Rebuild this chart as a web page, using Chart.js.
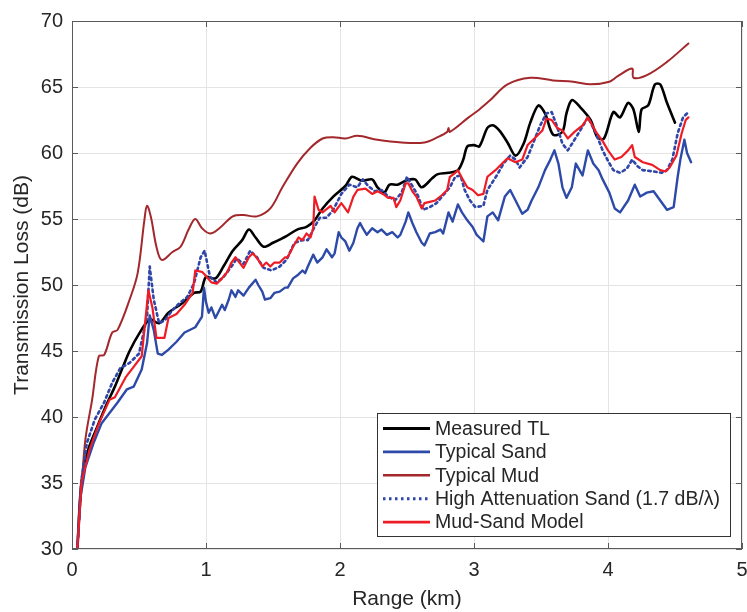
<!DOCTYPE html>
<html>
<head>
<meta charset="utf-8">
<script src="https://cdn.jsdelivr.net/npm/chart.js@4/dist/chart.umd.min.js"></script>
<style>
  html, body { margin: 0; padding: 0; background: #ffffff; }
  canvas { display: block; }
</style>
</head>
<body>
<canvas id="tl" width="747" height="612"></canvas>
<script>
// Range (km) and transmission loss (dB) for each curve
const measuredRange = [0.04,0.07,0.12,0.19,0.26,0.32,0.38,0.43,0.50,0.58,0.65,0.72,0.82,0.91,0.96,1.00,1.07,1.13,1.20,1.27,1.32,1.37,1.43,1.50,1.60,1.68,1.75,1.81,1.87,1.95,2.04,2.09,2.16,2.24,2.28,2.33,2.37,2.43,2.49,2.56,2.61,2.69,2.73,2.81,2.88,2.92,2.95,3.00,3.04,3.10,3.14,3.19,3.25,3.31,3.37,3.42,3.48,3.53,3.59,3.66,3.69,3.73,3.79,3.87,3.92,3.97,4.04,4.09,4.15,4.19,4.23,4.25,4.30,4.35,4.39,4.44,4.50];
const measuredTL    = [30,35,37.5,39.3,41.0,42.3,43.8,45.0,46.3,47.4,47.1,47.9,48.6,49.4,49.5,50.6,50.5,51.4,52.6,53.4,54.2,53.6,52.9,53.2,53.7,54.2,54.4,54.9,55.8,56.7,57.5,58.2,57.9,58.0,57.4,57.0,57.6,57.6,57.9,58.0,57.4,58.1,58.4,58.5,58.7,59.5,60.5,60.6,60.5,61.9,62.1,61.7,60.8,59.8,60.7,62.3,63.6,63.0,61.4,61.6,63.0,64.0,63.5,62.5,61.2,61.1,63.1,62.7,63.8,63.3,61.6,63.3,63.6,65.2,65.2,63.8,62.3];

const sandRange = [0.04,0.06,0.10,0.16,0.22,0.28,0.34,0.41,0.46,0.52,0.56,0.58,0.61,0.64,0.67,0.72,0.78,0.84,0.92,0.97,
  0.985,1.00,1.02,1.04,1.07,1.09,1.12,1.14,1.17,1.19,1.22,1.24,1.28,1.32,1.37,1.39,1.42,1.44,1.48,1.51,
  1.55,1.59,1.61,1.65,1.69,1.72,1.74,1.76,1.80,1.83,1.87,1.90,1.94,1.96,1.99,2.01,2.04,2.07,2.10,2.13,
  2.15,2.17,2.20,2.24,2.28,2.31,2.35,2.39,2.43,2.45,2.49,2.51,2.54,2.57,2.61,2.63,2.67,2.71,2.75,2.77,
  2.81,2.84,2.88,2.91,2.95,2.99,3.02,3.04,3.07,3.10,3.14,3.18,3.23,3.27,3.31,3.36,3.40,3.43,3.48,3.53,
  3.57,3.60,3.63,3.66,3.69,3.73,3.76,3.81,3.85,3.89,3.93,3.96,4.01,4.05,4.09,4.15,4.20,4.24,4.29,4.34,
  4.39,4.44,4.49,4.52,4.54,4.57,4.59,4.62];
const sandTL    = [30,33.7,36.2,38.0,39.5,40.3,41.1,42.1,42.3,43.6,45.6,47.7,46.6,44.8,44.7,45.1,45.7,46.4,46.8,47.6,
  49.8,48.7,47.9,48.3,47.5,47.9,48.5,48.1,48.9,49.6,49.1,49.6,49.2,49.8,50.4,50.0,49.5,48.9,49.0,49.4,
  49.5,49.8,49.8,50.5,50.8,51.1,50.9,51.4,52.3,51.7,52.1,52.7,52.1,52.4,54.0,53.6,53.3,52.6,53.2,54.3,
  54.7,54.3,53.8,54.3,54.0,54.2,53.8,54.0,53.6,53.8,54.8,55.5,54.7,54.0,53.2,53.0,53.9,54.0,54.2,53.9,
  55.5,54.8,56.1,55.5,54.9,54.4,53.8,53.6,53.3,55.2,55.5,54.9,56.7,57.2,56.4,55.4,55.7,56.4,57.4,58.7,
  59.5,60.2,59.2,57.4,56.6,57.4,59.2,58.3,60.2,59.2,58.7,58.0,57.0,55.8,55.5,56.4,57.6,56.7,57.0,57.1,
  56.4,55.7,55.9,58.2,59.5,61.0,60.0,59.3];

const mudRange = [0.04,0.07,0.10,0.15,0.20,0.24,0.30,0.34,0.43,0.49,0.54,0.56,0.59,0.63,0.67,0.75,0.81,0.87,0.92,0.97,1.03,1.10,1.20,1.28,1.38,1.48,1.57,1.68,1.78,1.87,1.95,2.04,2.13,2.28,2.46,2.63,2.73,2.80,2.81,2.82,2.96,3.04,3.12,3.25,3.42,3.59,3.74,3.87,4.01,4.07,4.18,4.19,4.29,4.44,4.60];
const mudTL    = [30,34.5,38.3,41.3,44.6,44.7,46.4,46.6,48.9,50.9,54.9,56.0,55.1,52.9,51.9,52.5,52.9,54.2,55.0,54.3,53.9,54.3,55.2,55.3,55.2,55.8,57.4,59.2,60.4,61.1,61.2,61.1,61.3,61.0,60.8,60.8,61.2,61.6,61.9,61.6,62.7,63.3,64.0,65.2,65.7,65.5,65.4,65.2,65.4,65.8,66.4,65.7,65.9,66.9,68.3];

const highAttenRange = [0.04,0.07,0.11,0.17,0.24,0.30,0.36,0.43,0.50,0.56,0.58,0.61,0.65,0.69,0.75,0.80,0.86,0.91,0.96,0.99,1.03,1.08,1.13,1.19,1.23,1.28,1.33,1.38,1.43,1.49,1.55,1.60,1.66,1.72,1.76,1.81,1.85,1.90,1.95,2.01,2.07,2.13,2.17,2.21,2.26,2.31,2.35,2.41,2.46,2.50,2.54,2.58,2.62,2.67,2.72,2.77,2.82,2.86,2.90,2.93,2.97,3.01,3.07,3.10,3.17,3.22,3.27,3.31,3.34,3.40,3.44,3.49,3.54,3.58,3.62,3.66,3.70,3.75,3.81,3.85,3.91,3.96,4.00,4.04,4.09,4.14,4.18,4.22,4.26,4.34,4.40,4.44,4.48,4.52,4.56,4.59];
const highAttenTL    = [30,35.2,38.0,39.8,41.1,42.6,43.7,44.1,44.8,47.6,51.4,48.9,47.1,47.3,48.1,48.6,49.1,50.1,52.1,52.6,50.6,50.2,50.6,51.4,52.0,51.6,52.6,52.1,51.3,51.1,51.4,51.9,53.2,53.4,53.4,54.4,55.1,55.1,55.7,56.9,57.6,57.4,58.0,57.5,57.1,57.2,56.8,56.4,57.0,58.2,57.5,56.8,55.7,55.9,56.2,56.8,57.4,58.2,58.3,57.2,56.4,55.9,56.0,57.2,58.3,59.2,59.8,59.5,58.9,59.7,60.7,62.0,63.0,63.1,62.0,60.7,60.2,61.0,62.0,62.7,61.5,60.2,59.4,58.7,58.5,58.8,59.5,59.0,58.7,58.6,58.5,58.7,59.5,61.5,62.7,63.0];

const mudSandRange = [0.04,0.07,0.13,0.20,0.28,0.32,0.40,0.46,0.52,0.57,0.60,0.63,0.69,0.72,0.78,0.84,0.90,0.92,0.97,0.99,
  1.04,1.08,1.12,1.16,1.19,1.22,1.25,1.28,1.32,1.35,1.39,1.42,1.45,1.48,1.51,1.55,1.59,1.61,1.65,1.69,
  1.72,1.75,1.78,1.80,1.81,1.84,1.87,1.93,1.96,2.01,2.06,2.10,2.13,2.19,2.24,2.28,2.32,2.36,2.40,2.42,
  2.45,2.49,2.51,2.54,2.57,2.61,2.63,2.67,2.71,2.76,2.80,2.82,2.86,2.88,2.91,2.95,2.99,3.03,
  3.07,3.10,3.16,3.21,3.25,3.31,3.36,3.40,3.46,3.51,3.54,3.58,3.62,3.66,3.70,3.75,3.81,3.85,3.91,3.96,
  4.00,4.05,4.10,4.15,4.18,4.20,4.26,4.33,4.39,4.43,4.46,4.51,4.55,4.58,4.60];
const mudSandTL    = [30,35,37.5,39.5,41.3,41.5,43.0,43.8,44.6,49.6,48.3,46.0,46.0,47.5,47.8,48.5,49.4,51.1,51.0,50.8,
  50.2,50.1,50.5,51.0,51.7,52.1,51.7,51.3,52.1,52.4,51.9,51.4,51.7,51.4,51.7,51.7,52.1,52.1,52.9,53.6,
  53.4,53.9,53.6,54.3,56.7,55.7,55.5,56.0,55.5,56.2,55.5,56.7,57.2,57.3,56.9,57.1,56.9,56.6,56.6,55.9,
  56.4,57.7,57.7,57.1,56.7,55.8,56.2,56.3,56.4,56.8,57.2,58.2,58.5,58.7,58.1,57.4,57.2,56.8,
  56.9,58.2,58.7,59.2,59.6,59.3,59.5,60.6,61.2,61.7,62.6,62.5,61.9,61.7,61.1,61.6,62.1,62.7,61.6,60.9,
  60.2,59.5,59.7,60.2,60.6,59.7,59.3,59.1,58.7,58.6,58.9,59.8,61.5,62.5,62.7];

const seriesLabels = ['Measured TL', 'Typical Sand', 'Typical Mud', 'High Attenuation Sand (1.7 dB/\u03BB)', 'Mud-Sand Model'];
const xTicks = [0, 1, 2, 3, 4, 5];
const yTicks = [30, 35, 40, 45, 50, 55, 60, 65, 70];

const FONT = '"Liberation Sans", Arial, Helvetica, sans-serif';
const TEXT = '#262626';

const pts = (xs, ys) => xs.map((x, i) => ({ x: x, y: ys[i] }));

// Box around the axes with inward tick marks on all four sides
const framePlugin = {
  id: 'frame',
  afterDatasetsDraw(chart) {
    const { ctx, chartArea: a, scales: { x, y } } = chart;
    ctx.save();
    ctx.strokeStyle = '#5a5a5a';
    ctx.lineWidth = 1;
    ctx.strokeRect(a.left + 0.5, a.top + 0.5, a.right - a.left - 1, a.bottom - a.top - 1);
    const len = 6;
    ctx.beginPath();
    xTicks.forEach(v => {
      const px = Math.round(x.getPixelForValue(v)) + 0.5;
      ctx.moveTo(px, a.bottom); ctx.lineTo(px, a.bottom - len);
      ctx.moveTo(px, a.top); ctx.lineTo(px, a.top + len);
    });
    yTicks.forEach(v => {
      const py = Math.round(y.getPixelForValue(v)) + 0.5;
      ctx.moveTo(a.left, py); ctx.lineTo(a.left + len, py);
      ctx.moveTo(a.right, py); ctx.lineTo(a.right - len, py);
    });
    ctx.stroke();
    ctx.restore();
  }
};

// Boxed legend in the lower right of the plotting area
const legendBoxPlugin = {
  id: 'legendBox',
  afterDraw(chart) {
    const { ctx, chartArea: a } = chart;
    const w = 353, h = 123;
    const left = a.right - 12 - w, top = a.bottom - 13 - h;
    ctx.save();
    ctx.fillStyle = '#ffffff';
    ctx.fillRect(left, top, w, h);
    ctx.strokeStyle = '#333333';
    ctx.lineWidth = 1;
    ctx.strokeRect(left + 0.5, top + 0.5, w, h);
    ctx.font = '19.5px ' + FONT;
    ctx.textBaseline = 'middle';
    ctx.fillStyle = TEXT;
    chart.data.datasets.forEach((ds, i) => {
      const cy = top + 15.5 + i * 23.4;
      ctx.save();
      ctx.strokeStyle = ds.borderColor;
      ctx.lineWidth = ds.borderWidth + 0.4;
      ctx.setLineDash(ds.borderDash || []);
      ctx.beginPath();
      ctx.moveTo(left + 6, cy);
      ctx.lineTo(left + 53, cy);
      ctx.stroke();
      ctx.restore();
      ctx.fillText(ds.label, left + 58, cy + 1);
    });
    ctx.restore();
  }
};

new Chart(document.getElementById('tl'), {
  type: 'line',
  data: {
    datasets: [
      { label: seriesLabels[0], data: pts(measuredRange, measuredTL), borderColor: '#000000', borderWidth: 2.6, tension: 0.3, order: 5 },
      { label: seriesLabels[1], data: pts(sandRange, sandTL), borderColor: '#2d4aa8', borderWidth: 2.4, tension: 0, order: 4 },
      { label: seriesLabels[2], data: pts(mudRange, mudTL), borderColor: '#a3282c', borderWidth: 2, tension: 0.35, order: 3 },
      { label: seriesLabels[3], data: pts(highAttenRange, highAttenTL), borderColor: '#2f46a8', borderWidth: 2.6, borderDash: [2.5, 3.5], tension: 0, order: 2 },
      { label: seriesLabels[4], data: pts(mudSandRange, mudSandTL), borderColor: '#ee1c25', borderWidth: 2.2, tension: 0, order: 1 }
    ]
  },
  options: {
    responsive: false,
    animation: false,
    layout: { padding: { top: 21, right: 5, left: 0, bottom: 0 } },
    elements: {
      point: { radius: 0, hoverRadius: 0 },
      line: { fill: false, borderCapStyle: 'round', borderJoinStyle: 'round' }
    },
    scales: {
      x: {
        type: 'linear', min: 0, max: 5,
        afterBuildTicks(s) { s.ticks = xTicks.map(v => ({ value: v })); },
        afterFit(s) { s.height = 63; s.paddingLeft = 0; s.paddingRight = 0; },
        ticks: { color: TEXT, font: { family: FONT, size: 20 }, padding: 9, maxRotation: 0, autoSkip: false },
        grid: { color: '#e4e4e4', lineWidth: 1, drawTicks: false },
        border: { display: false },
        title: { display: true, text: 'Range (km)', color: TEXT, font: { family: FONT, size: 21 }, padding: { top: 0, bottom: 0 } }
      },
      y: {
        type: 'linear', min: 30, max: 70,
        afterBuildTicks(s) { s.ticks = yTicks.map(v => ({ value: v })); },
        afterFit(s) { s.width = 72; s.paddingTop = 0; s.paddingBottom = 0; },
        ticks: { color: TEXT, font: { family: FONT, size: 20 }, padding: 9, autoSkip: false },
        grid: { color: '#e4e4e4', lineWidth: 1, drawTicks: false },
        border: { display: false },
        title: { display: true, text: 'Transmission Loss (dB)', color: TEXT, font: { family: FONT, size: 21 }, padding: { top: 10, bottom: 0 } }
      }
    },
    plugins: {
      legend: { display: false },
      tooltip: { enabled: false }
    }
  },
  plugins: [framePlugin, legendBoxPlugin]
});
</script>
</body>
</html>
